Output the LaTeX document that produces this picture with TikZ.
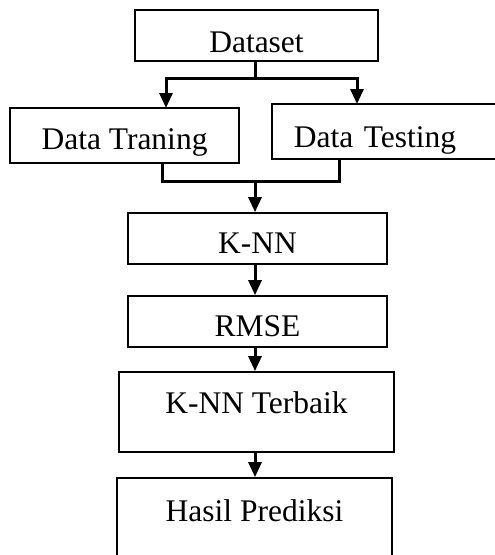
\documentclass[tikz,border=0pt]{standalone}
\usepackage{fontspec}
\setmainfont{Liberation Serif}
\usetikzlibrary{arrows.meta}
\tikzset{
  box/.style={draw, line width=1.7pt, inner sep=0pt, anchor=center,
    font=\fontsize{31.5}{36}\selectfont},
  conn/.style={line width=3pt},
  arr/.style={conn, -{Triangle[width=13pt,length=15pt]}}
}
\begin{document}
\begin{tikzpicture}[x=1pt, y=-1pt]
      \useasboundingbox (0,0) rectangle (495,555);
      \clip (0,0) rectangle (495,555);
      % top
      \node[box, minimum width=243pt, text height=42pt, text depth=9pt] at (256.5,35.5) (data) {Dataset};
      % split line
      \node[box, minimum width=229pt, text height=41pt, text depth=14pt] at (124.5,135.5) (train) {Data Traning};
      \node[box, anchor=west, text width=227pt, align=left, inner xsep=22pt, text height=43pt, text depth=12pt] at (271,131.5) (test) {Data Testing};
      \coordinate (split) at (255,78);
      \coordinate (inL) at (166,108);
      \coordinate (inR) at (357,104);
      \draw[conn] (data.south -| split) -- (split);
      \draw[arr] (split) -| (inL);
      \draw[arr] (split) -| (inR);
      % join line
      \coordinate (join) at (255,181);
      \coordinate (outL) at (162,163);
      \coordinate (outR) at (339,159);
      \draw[conn] (outL) |- (join) -| (outR);
      % main column
      \node[box, minimum width=259pt, text height=40pt, text depth=11pt] at (257.5,238.5) (knn) {K-NN};
      \node[box, minimum width=259pt, text height=40pt, text depth=11pt] at (257.5,321.5) (rmse) {RMSE};
      \node[box, minimum width=275pt, text height=41pt, text depth=39pt] at (256.5,412) (best) {K-NN Terbaik};
      \node[box, minimum width=275pt, text height=43pt, text depth=37pt] at (254.5,518) (pred) {Hasil Prediksi};
      \draw[arr] (join) -- (join |- knn.north);
      \draw[arr] (knn.south -| join) -- (rmse.north -| join);
      \draw[arr] (rmse.south -| join) -- (best.north -| join);
      \draw[arr] (best.south -| join) -- (pred.north -| join);
    \end{tikzpicture}
\end{document}
